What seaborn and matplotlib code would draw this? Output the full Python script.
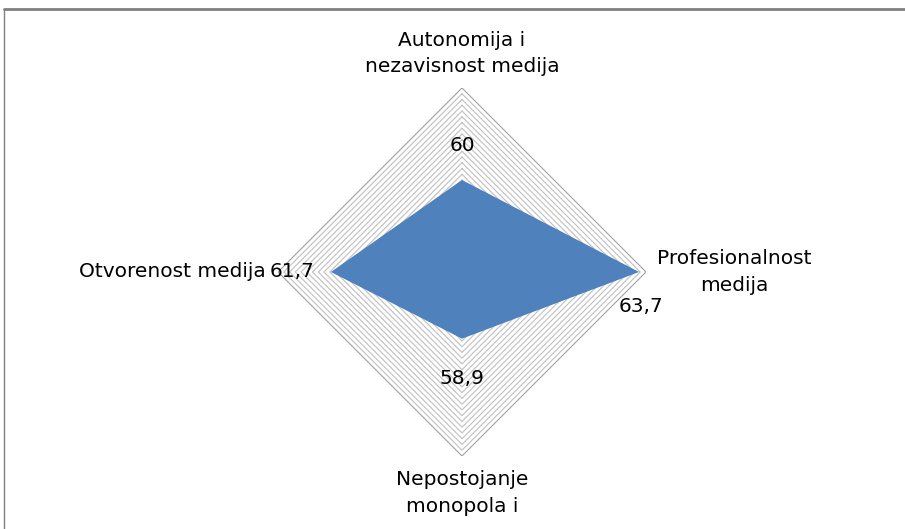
import numpy as np
import matplotlib
matplotlib.use("Agg")
import matplotlib.pyplot as plt
from matplotlib.lines import Line2D
import seaborn as sns

# data
categories = ["Autonomija i\nnezavisnost medija", "Profesionalnost\nmedija",
              "Nepostojanje\nmonopola i", "Otvorenost medija"]
values = [60.0, 63.7, 58.9, 61.7]
value_labels = ["60", "63,7", "58,9", "61,7"]
r_min, r_max, r_step = 56, 64, 0.25

sns.set_style("white")
plt.rcParams["font.family"] = ["DejaVu Sans"]

fig = plt.figure(figsize=(9.05, 5.29), dpi=100)
ax = fig.add_axes([0.3072, 0.138, 0.4066, 0.6957], projection="polar")
ax.set_theta_zero_location("N")
ax.set_theta_direction(-1)
ax.set_ylim(r_min, r_max)

theta = np.deg2rad(np.arange(len(categories)) * 360 / len(categories))
theta_c = np.append(theta, theta[0])

# diamond shaped grid rings
rings = np.arange(r_min + r_step, r_max + 0.001, r_step)
for r in rings:
    col = "#a0a0a0" if r == rings[-1] else "#c0c0c0"
    ax.plot(theta_c, [r] * len(theta_c), color=col, lw=0.8, zorder=1)

vals_c = np.append(values, values[0])
ax.fill(theta_c, vals_c, color="#4F81BD", zorder=3, lw=0)

ax.grid(False)
ax.set_xticks([])
ax.set_yticks([])
ax.spines["polar"].set_visible(False)
ax.patch.set_alpha(0)

# value labels
offsets = [(0, 34), (2, -35), (0, -40), (-39, 0)]
for t, v, lab, off in zip(theta, values, value_labels, offsets):
    ax.annotate(lab, xy=(t, v), xytext=off, textcoords="offset pixels",
                ha="center", va="center", fontsize=14.5, color="black", zorder=5)

# category labels
cat_pos = [(65.5, "center"), (64.5, "left"), (65.6, "center"), (64.55, "right")]
for t, lab, (r, ha) in zip(theta, categories, cat_pos):
    ax.text(t, r, lab, ha=ha, va="center", fontsize=14.5, linespacing=1.5,
            multialignment="center", color="black", clip_on=False)

# chart frame (top and left edge visible)
fig.add_artist(Line2D([0.004, 1.0], [0.983, 0.983], color="#808080", lw=2))
fig.add_artist(Line2D([0.004, 0.004], [0.0, 0.983], color="#808080", lw=1))

plt.savefig("out.png", dpi=100)
